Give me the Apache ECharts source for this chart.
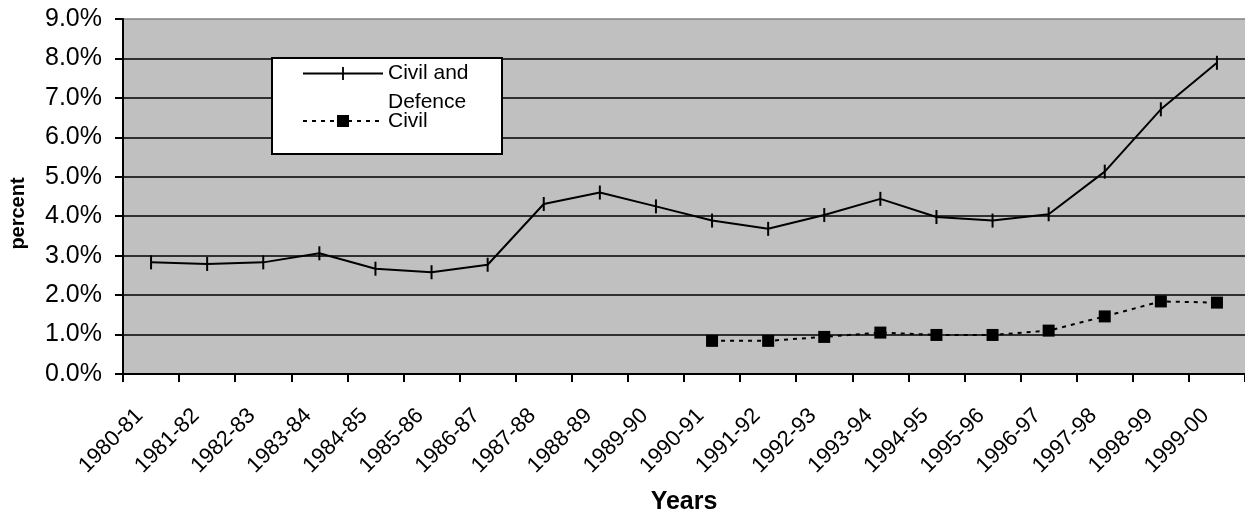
<!DOCTYPE html>
<html>
<head>
<meta charset="utf-8">
<script src="https://cdn.jsdelivr.net/npm/echarts@6/dist/echarts.min.js"></script>
<style>
html,body{margin:0;padding:0;background:#fff;}
#chart{width:1245px;height:517px;}
</style>
</head>
<body>
<div id="chart"></div>
<script>
const categories = ['1980-81','1981-82','1982-83','1983-84','1984-85','1985-86','1986-87','1987-88','1988-89','1989-90','1990-91','1991-92','1992-93','1993-94','1994-95','1995-96','1996-97','1997-98','1998-99','1999-00'];
const civilAndDefence = [2.83,2.79,2.83,3.06,2.67,2.58,2.77,4.31,4.60,4.25,3.89,3.68,4.03,4.44,3.98,3.89,4.05,5.13,6.71,7.89];
const civil = [null,null,null,null,null,null,null,null,null,null,0.84,0.84,0.94,1.05,0.99,0.99,1.10,1.46,1.84,1.81];
const yTicks = {min:0, max:9, interval:1};
const seriesNames = ['Civil and Defence','Civil'];

const FONT = 'Liberation Sans, Arial, sans-serif';
const chart = echarts.init(document.getElementById('chart'), null, {renderer:'canvas'});
const splitColors = [];
for (let i = yTicks.min; i <= yTicks.max; i++) splitColors.push(i === yTicks.max ? '#808080' : '#000');

chart.setOption({
  animation:false,
  backgroundColor:'#fff',
  grid:{left:123, top:19, right:0, bottom:143, show:true, backgroundColor:'#C0C0C0', borderWidth:0,
        containLabel:false, outerBoundsMode:'none'},
  xAxis:{
    type:'category', data:categories, boundaryGap:true,
    name:'Years', nameLocation:'middle', nameGap:116,
    nameTextStyle:{fontFamily:FONT, fontSize:25, fontWeight:'bold', color:'#000'},
    axisLine:{lineStyle:{color:'#000', width:2}},
    axisTick:{show:true, length:8, lineStyle:{color:'#000', width:2}},
    axisLabel:{rotate:45, fontFamily:FONT, fontSize:22, color:'#000', margin:27, padding:[0,16,0,0], interval:0},
    splitLine:{show:false}
  },
  yAxis:{
    type:'value', min:yTicks.min, max:yTicks.max, interval:yTicks.interval,
    name:'percent', nameLocation:'middle', nameGap:95, nameRotate:90,
    nameTextStyle:{fontFamily:FONT, fontSize:20, fontWeight:'bold', color:'#000', padding:[0,34,0,0]},
    axisLine:{show:true, lineStyle:{color:'#000', width:2}},
    axisTick:{show:true, length:8, lineStyle:{color:'#000', width:2}},
    axisLabel:{fontFamily:FONT, fontSize:25, color:'#000', margin:21, formatter:v=>v.toFixed(1)+'%'},
    splitLine:{show:true, lineStyle:{color:splitColors, width:1.5}}
  },
  graphic:[{type:'rect', left:271, top:57, z:3, shape:{width:230, height:96}, style:{fill:'#fff', stroke:'#000', lineWidth:2}}],
  legend:[
    {data:[seriesNames[0]], left:302, top:30, orient:'vertical', padding:0, itemWidth:80, itemHeight:16, z:5,
     formatter:()=>' \nCivil and\nDefence',
     textStyle:{fontFamily:FONT, fontSize:21, color:'#000', lineHeight:29}},
    {data:[seriesNames[1]], left:302, top:110, orient:'vertical', padding:0, itemWidth:80, itemHeight:15, z:5,
     textStyle:{fontFamily:FONT, fontSize:21, color:'#000', lineHeight:22}}
  ],
  series:[
    {name:seriesNames[0], type:'line', data:civilAndDefence, z:3,
     symbol:'path://M0,0L0,0M14,14L14,14M6,0h2v14h-2z', symbolSize:14,
     itemStyle:{color:'#000'}, lineStyle:{color:'#000', width:2}},
    {name:seriesNames[1], type:'line', data:civil, z:3, connectNulls:false,
     symbol:'rect', symbolSize:12,
     itemStyle:{color:'#000'}, lineStyle:{color:'#000', width:2, type:[4,5]}}
  ]
});
</script>
</body>
</html>
